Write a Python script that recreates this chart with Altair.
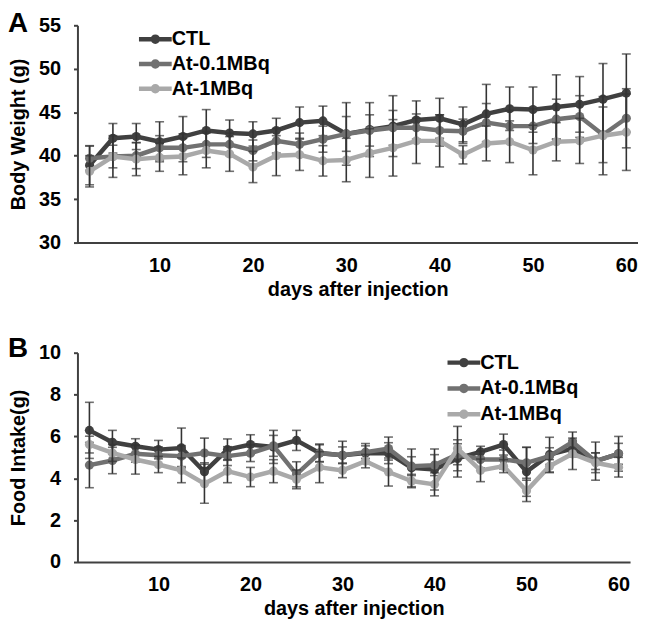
import altair as alt
import pandas as pd

days = [2.5, 5, 7.5, 10, 12.5, 15, 17.5, 20, 22.5, 25, 27.5, 30,
        32.5, 35, 37.5, 40, 42.5, 45, 47.5, 50, 52.5, 55, 57.5, 60]
groups = ["CTL", "At-0.1MBq", "At-1MBq"]
colors = ["#404040", "#717171", "#a9a9a9"]
x_ticks = [10, 20, 30, 40, 50, 60]

# Panel A: body weight (g), mean and SD
bw_ctl = [38.9, 42.0, 42.2, 41.6, 42.2, 42.9, 42.6, 42.5, 42.9, 43.8, 44.0, 42.5,
          43.0, 43.4, 44.1, 44.3, 43.6, 44.8, 45.4, 45.3, 45.6, 45.9, 46.5, 47.2]
bw_at01 = [39.7, 39.9, 40.0, 40.9, 40.9, 41.3, 41.3, 40.6, 41.7, 41.3, 41.9, 42.5,
           42.9, 43.2, 43.2, 42.9, 42.8, 43.8, 43.4, 43.4, 44.2, 44.5, 42.4, 44.3]
bw_at1 = [38.2, 39.9, 39.6, 39.8, 39.9, 40.6, 40.2, 38.7, 40.0, 40.1, 39.4, 39.5,
          40.3, 40.9, 41.7, 41.7, 40.1, 41.4, 41.6, 40.65, 41.6, 41.7, 42.3, 42.7]
bw_ctl_sd = [2.25, 1.7, 1.5, 2.3, 2.3, 2.4, 1.5, 1.4, 1.4, 1.8, 1.7, 3.6,
             3.1, 3.5, 2.2, 2.3, 2.0, 3.4, 2.5, 2.6, 3.7, 3.2, 4.1, 4.5]
bw_at01_sd = [1.4, 1.3, 1.5, 1.4, 1.6, 1.5, 1.3, 1.2, 1.4, 1.3, 1.5, 2.0,
              1.8, 2.0, 1.6, 1.8, 1.4, 2.2, 1.8, 2.0, 2.3, 2.4, 3.2, 3.4]
bw_at1_sd = [1.8, 2.4, 1.9, 1.6, 2.1, 2.0, 2.0, 1.8, 2.3, 1.8, 1.75, 2.5,
             2.8, 3.25, 2.6, 3.0, 1.05, 2.0, 2.4, 2.85, 2.2, 2.6, 4.5, 4.4]
bw_y_ticks = [30, 35, 40, 45, 50, 55]

# Panel B: food intake (g), mean and SD
fi_ctl = [6.29, 5.72, 5.53, 5.37, 5.45, 4.31, 5.37, 5.61, 5.5, 5.81, 5.21, 5.1,
          5.21, 5.2, 4.5, 4.42, 4.95, 5.26, 5.61, 4.31, 5.13, 5.42, 4.82, 5.17]
fi_at01 = [4.63, 4.85, 5.17, 5.1, 5.06, 5.21, 5.06, 5.2, 5.55, 4.19, 5.2, 5.1,
           5.25, 5.42, 4.58, 4.63, 5.15, 4.9, 4.9, 4.74, 5.06, 5.73, 4.82, 5.17]
fi_at1 = [5.61, 5.21, 4.9, 4.66, 4.38, 3.74, 4.34, 4.06, 4.34, 3.95, 4.53, 4.38,
          4.82, 4.3, 3.87, 3.71, 5.42, 4.38, 4.58, 3.4, 4.58, 5.17, 4.74, 4.53]
fi_ctl_sd = [1.34, 0.57, 0.36, 0.44, 0.95, 0.43, 0.51, 0.47, 0.79, 0.48, 0.43, 0.67,
             0.45, 0.5, 0.9, 0.98, 0.89, 0.27, 0.5, 1.17, 0.83, 0.4, 0.91, 0.83]
fi_at01_sd = [1.08, 0.63, 0.4, 0.4, 0.5, 0.71, 0.45, 0.4, 0.5, 0.6, 0.4, 0.4,
              0.3, 0.55, 0.45, 0.5, 0.5, 0.4, 0.45, 0.74, 0.4, 0.48, 0.4, 0.5]
fi_at1_sd = [0.4, 0.4, 0.7, 0.39, 0.59, 0.93, 0.55, 0.46, 0.55, 0.45, 0.74, 0.35,
             0.32, 0.67, 0.32, 0.55, 1.06, 0.54, 0.31, 0.51, 0.31, 0.75, 0.47, 0.47]
fi_y_ticks = [0, 2, 4, 6, 8, 10]

FONT = "Liberation Sans"
AXIS_COLOR = "#404040"
ERR_COLOR = "#333333"
# legend glyph: a line with a dot in the middle (drawn by stroke)
LEGEND_SYMBOL = ("M-1.65,0L1.65,0 "
                 "M0.25,0A0.25,0.25 0 1 1 -0.25,0A0.25,0.25 0 1 1 0.25,0Z")


def long_table(vals, sds):
    rows = []
    for g, v, s in zip(groups, vals, sds):
        for d, y, e in zip(days, v, s):
            rows.append({"day": d, "group": g, "value": y, "lo": y - e, "hi": y + e})
    return pd.DataFrame(rows)


def panel(df, ytitle, ydomain, yticks, width, height, leg_x, leg_y, row_pad,
          letter, letter_y):
    xs = alt.Scale(domain=[1.2, 61.25], nice=False, zero=False, padding=0)
    ys = alt.Scale(domain=ydomain, nice=False, zero=False, padding=0)
    cs = alt.Scale(domain=groups, range=colors)
    xaxis = alt.Axis(values=x_ticks, title="days after injection", ticks=False,
                     grid=False, labelPadding=13, titlePadding=4)
    yaxis = alt.Axis(values=yticks, title=ytitle, tickSize=4, grid=False,
                     labelPadding=13, titlePadding=10)
    X = alt.X("day:Q", scale=xs, axis=xaxis)
    legend = alt.Legend(
        title=None, orient="none", legendX=leg_x, legendY=leg_y,
        symbolType=LEGEND_SYMBOL, symbolSize=400, symbolStrokeWidth=4.5,
        symbolOpacity=1, symbolOffset=7, labelOffset=4,
        labelFontSize=20, labelFont=FONT, labelFontWeight="bold",
        labelColor="black", rowPadding=row_pad, padding=0)
    layers = []
    for g, col in zip(groups, colors):
        base = alt.Chart(df[df.group == g])
        line = base.mark_line(strokeWidth=4.5).encode(
            x=X, y=alt.Y("value:Q", scale=ys, axis=yaxis),
            color=alt.Color("group:N", scale=cs, legend=legend))
        pts = base.mark_circle(size=85, opacity=1, color=col).encode(
            x=X, y=alt.Y("value:Q", scale=ys, axis=yaxis))
        rule = base.mark_rule(color=ERR_COLOR, strokeWidth=1.6).encode(
            x=X, y=alt.Y("lo:Q", scale=ys, axis=yaxis), y2="hi:Q")
        cap_lo = base.mark_tick(orient="horizontal", size=9, thickness=1.6,
                                color=ERR_COLOR).encode(
            x=X, y=alt.Y("lo:Q", scale=ys, axis=yaxis))
        cap_hi = base.mark_tick(orient="horizontal", size=9, thickness=1.6,
                                color=ERR_COLOR).encode(
            x=X, y=alt.Y("hi:Q", scale=ys, axis=yaxis))
        layers += [line, pts, rule, cap_lo, cap_hi]
    lab = alt.Chart(pd.DataFrame({"t": [letter]})).mark_text(
        fontSize=28, fontWeight="bold", font=FONT, align="left",
        baseline="top", color="black").encode(
        text="t:N", x=alt.value(-70), y=alt.value(letter_y))
    layers.append(lab)
    return alt.layer(*layers).properties(width=width, height=height)


top = panel(long_table([bw_ctl, bw_at01, bw_at1], [bw_ctl_sd, bw_at01_sd, bw_at1_sd]),
            "Body Weight (g)", [30, 55], bw_y_ticks, 565, 219, 59, 1.5, 1, "A", -15)
bottom = panel(long_table([fi_ctl, fi_at01, fi_at1], [fi_ctl_sd, fi_at01_sd, fi_at1_sd]),
               "Food Intake(g)", [0, 10], fi_y_ticks, 557, 211, 370, -2.5, 2, "B", -18)

chart = alt.vconcat(top, bottom, spacing=36).resolve_scale(color="independent").properties(
    padding=0
).configure_view(stroke=None).configure_axis(
    labelFont=FONT, labelFontSize=20, labelFontWeight="bold", labelColor="black",
    titleFont=FONT, titleFontSize=20, titleFontWeight="bold", titleColor="black",
    domainColor=AXIS_COLOR, domainWidth=2, tickColor=AXIS_COLOR, tickWidth=2
)

chart.save("out.html", embed_options={"renderer": "svg", "actions": False})
